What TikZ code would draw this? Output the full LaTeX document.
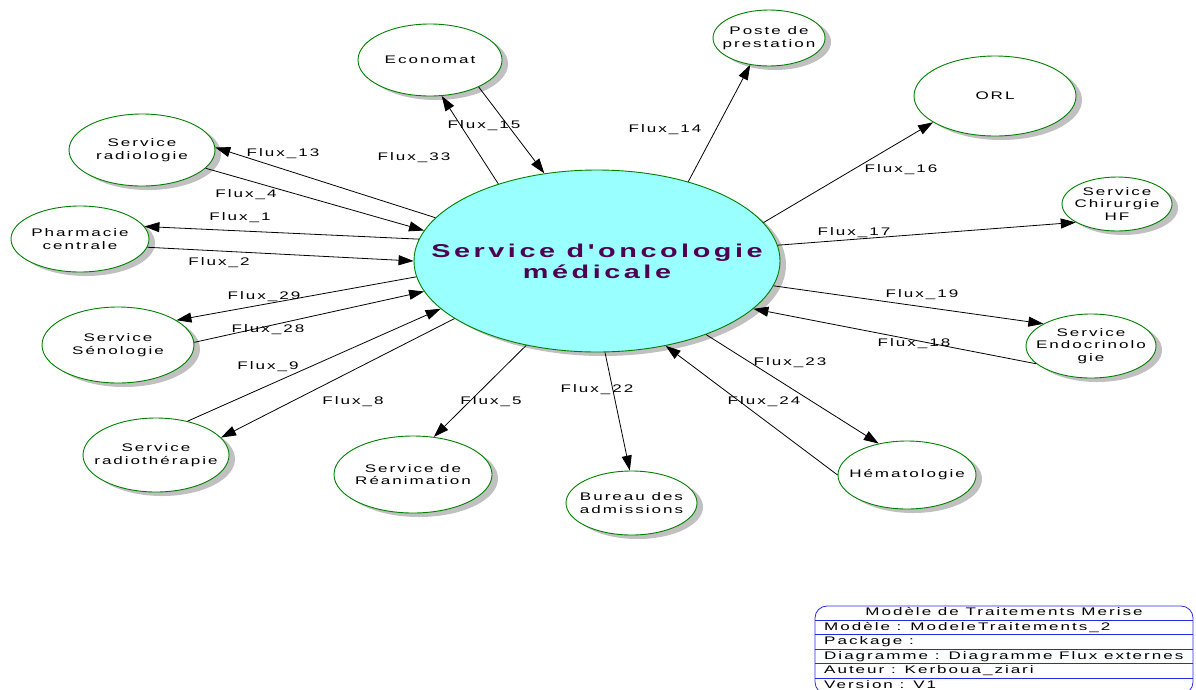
\documentclass[tikz,border=0pt]{standalone}
\usepackage{fontspec}
\setmainfont{Liberation Sans}
\newfontfamily\lsfont[FakeStretch=1.55,LetterSpace=18]{Liberation Sans}
\newfontfamily\lsfontb[FakeStretch=1.55,LetterSpace=19,Ligatures=TeXOff]{Liberation Sans Bold}
\usetikzlibrary{arrows.meta,shapes.geometric,shadows}
\definecolor{nodegreen}{RGB}{0,128,0}
\definecolor{centrefill}{RGB}{153,255,255}
\definecolor{titlepurple}{RGB}{80,0,80}
\definecolor{shadowgray}{RGB}{192,192,192}
\definecolor{legendblue}{RGB}{40,40,230}
\tikzset{
  ent/.style={ellipse, draw=nodegreen, fill=white, line width=0.9pt, inner sep=0pt,
    drop shadow={shadow xshift=6pt,shadow yshift=-4pt,fill=shadowgray,opacity=1}},
  enttxt/.style={font=\lsfont\fontsize{11}{12.5}\selectfont, align=center, inner sep=0pt},
  flow/.style={draw=black, line width=0.8pt, -{Triangle[length=15pt,width=10pt]}},
  flowlbl/.style={font=\lsfont\fontsize{11}{13}\selectfont, inner sep=0pt, text height=7.9pt, text depth=0pt},
  legline/.style={draw=legendblue, line width=0.8pt},
  legtxt/.style={font=\lsfont\fontsize{11}{13}\selectfont, inner sep=0pt, text height=7.9pt, text depth=0pt}
}
\begin{document}
\begin{tikzpicture}[x=1pt,y=-1pt]
\useasboundingbox (0,0) rectangle (1196,689);
\begin{scope}
\clip (0,0) rectangle (1196,689);
% entities
\node[ent, fill=centrefill, minimum width=366pt, minimum height=182pt] (onco) at (597,261) {};
\node[ent, minimum width=144pt, minimum height=72pt] (eco) at (430,60) {};
\node[ent, minimum width=112pt, minimum height=56pt] (poste) at (769,38) {};
\node[ent, minimum width=162pt, minimum height=80pt] (orl) at (995,96) {};
\node[ent, minimum width=110pt, minimum height=54pt] (chir) at (1117,204) {};
\node[ent, minimum width=130pt, minimum height=64pt] (endo) at (1091,346) {};
\node[ent, minimum width=138pt, minimum height=68pt] (hema) at (907,475) {};
\node[ent, minimum width=131pt, minimum height=64pt] (bureau) at (631.5,503) {};
\node[ent, minimum width=158pt, minimum height=77pt] (rea) at (413,474.5) {};
\node[ent, minimum width=146pt, minimum height=74pt] (radioth) at (156,455) {};
\node[ent, minimum width=152pt, minimum height=76pt] (seno) at (118,345) {};
\node[ent, minimum width=138pt, minimum height=66pt] (pharma) at (80,239) {};
\node[ent, minimum width=146pt, minimum height=72pt] (radiol) at (142,150) {};
% entity texts
\node[font=\lsfontb\fontsize{18.6}{21}\selectfont, text=titlepurple, align=center, inner sep=0pt] (onco-t) at (onco) {Service d'oncologie\\médicale};
\node[enttxt] (eco-t) at (eco) {Economat};
\node[enttxt] (poste-t) at (poste) {Poste de\\prestation};
\node[enttxt] (orl-t) at (orl) {ORL};
\node[enttxt] (chir-t) at (chir) {Service\\Chirurgie\\HF};
\node[enttxt] (endo-t) at (endo) {Service\\Endocrinolo\\gie};
\node[enttxt] (hema-t) at (hema) {Hématologie};
\node[enttxt] (bureau-t) at (bureau) {Bureau des\\admissions};
\node[enttxt] (rea-t) at (rea) {Service de\\Réanimation};
\node[enttxt] (radioth-t) at (radioth) {Service\\radiothérapie};
\node[enttxt] (seno-t) at (seno) {Service\\Sénologie};
\node[enttxt] (pharma-t) at (pharma) {Pharmacie\\centrale};
\node[enttxt] (radiol-t) at (radiol) {Service\\radiologie};
% flows
\draw[flow] (eco.331.9) -- (onco.121.2);
\draw[flow] (onco.142.4) -- (eco.288.4);
\draw[flow] (onco.41) -- (poste.235.8);
\draw[flow] (onco.13.6) -- (orl.203.2);
\draw[flow] (onco.5.2) -- (chir.204.2);
\draw[flow] (onco.352.4) -- (endo.155.4);
\draw[flow] (endo.198.4) -- (onco.343.5);
\draw[flow] (onco.326.6) -- (hema.132.2);
\draw[flow] (hema.180) -- (onco.309.7);
\draw[flow] (onco.275.5) -- (bureau.93.5);
\draw[flow] (onco.230.1) -- (rea.61.6);
\draw[flow] (onco.202.6) -- (radioth.15);
\draw[flow] (radioth.47.7) -- (onco.197.3);
\draw[flow] (seno.2) -- (onco.190.7);
\draw[flow] (onco.185.1) -- (seno.23);
\draw[flow] (pharma.353.3) -- (onco.180.3);
\draw[flow] (onco.173.8) -- (pharma.11.8);
\draw[flow] (radiol.344) -- (onco.170.3);
\draw[flow] (onco.165.1) -- (radiol.2.1);
% flow labels
\node[flowlbl] (l15) at (484,125) {Flux\_15};
\node[flowlbl] (l33) at (414,157) {Flux\_33};
\node[flowlbl] (l14) at (665,129) {Flux\_14};
\node[flowlbl] (l16) at (901,169) {Flux\_16};
\node[flowlbl] (l17) at (854,232) {Flux\_17};
\node[flowlbl] (l19) at (922,294) {Flux\_19};
\node[flowlbl] (l18) at (914,343) {Flux\_18};
\node[flowlbl] (l23) at (790,362) {Flux\_23};
\node[flowlbl] (l24) at (764,401) {Flux\_24};
\node[flowlbl] (l22) at (597,389) {Flux\_22};
\node[flowlbl] (l5) at (491,401) {Flux\_5};
\node[flowlbl] (l8) at (353,401) {Flux\_8};
\node[flowlbl] (l9) at (268,366) {Flux\_9};
\node[flowlbl] (l28) at (268,329) {Flux\_28};
\node[flowlbl] (l29) at (264,296) {Flux\_29};
\node[flowlbl] (l2) at (219,262) {Flux\_2};
\node[flowlbl] (l1) at (240,217) {Flux\_1};
\node[flowlbl] (l4) at (246,194) {Flux\_4};
\node[flowlbl] (l13) at (283,153) {Flux\_13};
% legend
\draw[legline, fill=white, rounded corners=12pt] (815,606) rectangle (1193,694);
\foreach \yy in {620.4,634.8,649.2,663.6,678} \draw[legline] (815,\yy) -- (1193,\yy);
\node[legtxt] (leg0) at (1004,611.5) {Modèle de Traitements Merise};
\node[legtxt, anchor=west] (leg1) at (824,626.5) {Modèle : ModeleTraitements\_2};
\node[legtxt, anchor=west] (leg2) at (824,641) {Package :};
\node[legtxt, anchor=west] (leg3) at (824,655.7) {Diagramme : Diagramme Flux externes};
\node[legtxt, anchor=west] (leg4) at (824,670) {Auteur : Kerboua\_ziari};
\node[legtxt, anchor=west] (leg5) at (824,684.3) {Version : V1};
\end{scope}
\end{tikzpicture}
\end{document}
